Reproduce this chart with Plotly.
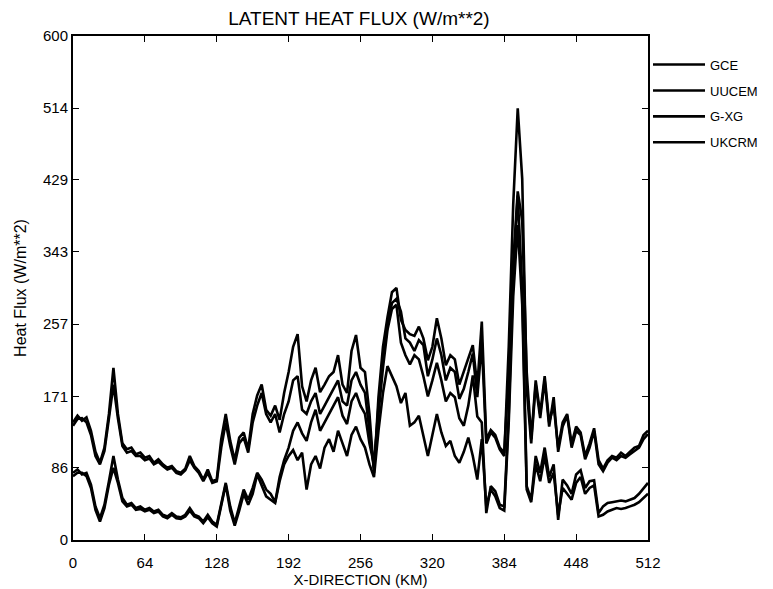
import plotly.graph_objects as go

# Horizontal positions (km), every 4 km
x_km = list(range(0, 513, 4))

# Latent heat flux (W/m**2) for each model
gce = [
    140, 148, 142, 146, 130, 105, 92, 110, 150, 205, 150, 115, 108, 110, 102, 104,
    98, 100, 92, 96, 90, 86, 88, 82, 80, 85, 100, 88, 82, 72, 84, 70,
    72, 120, 150, 118, 95, 122, 128, 108, 150, 172, 185, 155, 148, 160, 143, 175,
    200, 230, 245, 183, 165, 190, 205, 176, 185, 195, 200, 220, 185, 175, 225, 244,
    205, 200, 150, 80, 170, 230, 265, 295, 300, 262, 250, 245, 243, 254, 240, 214,
    230, 264, 240, 208, 220, 215, 185, 200, 215, 232, 183, 260, 120, 131, 125, 110,
    104, 200, 330, 415, 380, 200, 120, 190, 150, 195, 140, 160, 110, 140, 150, 115,
    135, 128, 100, 115, 133, 95, 85, 95, 100, 98, 104, 100, 105, 110, 112, 125,
    130,
]
uucem = [
    136, 144, 145, 140, 125, 100, 90, 106, 145, 185, 145, 112, 104, 106, 100, 100,
    95, 97, 90, 93, 88, 84, 86, 80, 78, 83, 95, 86, 80, 70, 80, 68,
    70, 110, 140, 112, 90, 115, 122, 104, 140, 160, 175, 150, 140, 150, 128, 150,
    165, 190, 195, 155, 150, 165, 175, 150, 160, 170, 180, 190, 165, 160, 190, 200,
    185, 175, 130, 85, 160, 215, 255, 282, 287, 272, 240, 235, 225, 238, 232, 195,
    215, 240, 220, 190, 205, 200, 168, 180, 200, 222, 170, 235, 115, 128, 122, 108,
    100, 230, 400, 514, 430, 180, 115, 185, 145, 190, 135, 170, 105, 135, 148, 110,
    130, 125, 96, 110, 130, 90, 82, 92, 98, 95, 100, 98, 102, 106, 110, 120,
    126,
]
gxg = [
    80, 84, 78, 80, 66, 40, 26, 42, 70, 100, 72, 50, 42, 44, 38, 40,
    36, 38, 34, 36, 30, 28, 32, 28, 27, 30, 38, 30, 28, 22, 30, 22,
    18, 45, 68, 40, 20, 40, 60, 48, 62, 80, 72, 60, 55, 45, 75, 95,
    110, 130, 140, 127, 118, 140, 155, 130, 140, 150, 160, 170, 148, 138, 165, 175,
    160, 150, 115, 90, 150, 205, 250, 275, 280, 235, 220, 209, 220, 215, 195, 171,
    190, 211, 190, 165, 175, 170, 145, 136, 160, 196, 147, 140, 32, 64, 58, 42,
    40, 150, 320, 410, 300, 64, 48, 100, 80, 110, 75, 90, 24, 72, 65, 55,
    78, 83, 62, 70, 71, 32, 40, 44, 45, 46, 47, 46, 48, 50, 55, 62,
    68,
]
ukcrm = [
    76, 80, 80, 76, 62, 36, 22, 38, 66, 86, 68, 46, 40, 42, 36, 37,
    34, 36, 32, 34, 28, 26, 30, 26, 25, 28, 35, 28, 26, 20, 27, 20,
    16, 40, 66, 35, 17, 35, 55, 42, 55, 78, 65, 52, 48, 44, 70, 90,
    100, 107, 95, 104, 60, 90, 100, 85, 110, 120, 105, 130, 115, 100, 125, 135,
    120, 110, 90, 75, 130, 175, 207, 195, 183, 163, 175, 136, 140, 148, 125, 100,
    125, 150, 128, 112, 118, 100, 92, 105, 122, 100, 72, 120, 40, 60, 52, 38,
    35, 140, 290, 375, 280, 60, 45, 90, 70, 100, 68, 80, 30, 62, 55, 48,
    68, 75, 55, 62, 65, 28, 30, 34, 36, 38, 37, 38, 40, 42, 45, 50,
    55,
]

series_names = ["GCE", "UUCEM", "G-XG", "UKCRM"]
series_values = [gce, uucem, gxg, ukcrm]

x_ticks = [0, 64, 128, 192, 256, 320, 384, 448, 512]
y_ticks = [0, 86, 171, 257, 343, 429, 514, 600]

FONT = "Liberation Sans Narrow, Arial Narrow, Liberation Sans, Arial, sans-serif"

fig = go.Figure()
for name, vals in zip(series_names, series_values):
    fig.add_trace(go.Scatter(
        x=x_km, y=vals, mode="lines", name=name,
        legendgroup=name,
        line=dict(color="black", width=2.6),
    ))

fig.update_layout(
    width=773, height=589,
    margin=dict(l=61, r=133, t=28, b=57),
    paper_bgcolor="white", plot_bgcolor="white",
    font=dict(family=FONT, color="black", size=13),
    title=dict(text="LATENT HEAT FLUX (W/m**2)", x=0.454, xanchor="center",
               y=0.983, yanchor="middle", font=dict(size=19)),
    showlegend=True,
    legend=dict(x=1.0, xanchor="left", y=0.973, yanchor="top",
                bgcolor="rgba(0,0,0,0)", font=dict(size=13),
                tracegroupgap=6, itemwidth=52),
)
fig.update_xaxes(
    range=[0, 512], tickvals=x_ticks, ticktext=[str(v) for v in x_ticks],
    ticks="inside", ticklen=6, tickcolor="black", tickwidth=1,
    showline=True, linecolor="black", linewidth=2, mirror="ticks",
    showgrid=False, zeroline=False, ticklabelstandoff=8,
    title=dict(text="X-DIRECTION (KM)", standoff=2, font=dict(size=15)),
    tickfont=dict(size=15),
)
fig.update_yaxes(
    range=[0, 600], tickvals=y_ticks, ticktext=[str(v) for v in y_ticks],
    ticks="inside", ticklen=6, tickcolor="black", tickwidth=1,
    showline=True, linecolor="black", linewidth=2, mirror="ticks",
    showgrid=False, zeroline=False,
    title=dict(text="Heat Flux (W/m**2)", standoff=12, font=dict(size=16)),
    tickfont=dict(size=15),
)

fig.write_html("out.html")
